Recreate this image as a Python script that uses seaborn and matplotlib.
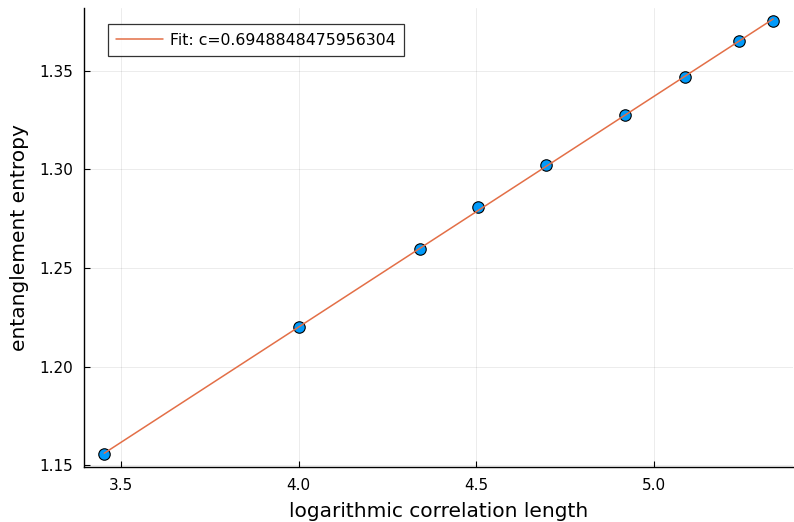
import numpy as np
import pandas as pd
import matplotlib
matplotlib.use("Agg")
import matplotlib.pyplot as plt
import seaborn as sns

# --- data ---
log_corr_length = [3.453, 4.002, 4.341, 4.506, 4.697, 4.919, 5.086, 5.240, 5.335]
entropy = [1.1556, 1.2200, 1.2596, 1.2810, 1.3023, 1.3277, 1.3470, 1.3652, 1.3754]
fit_label = "Fit: c=0.6948848475956304"
x_ticks = [3.5, 4.0, 4.5, 5.0]
y_ticks = [1.15, 1.20, 1.25, 1.30, 1.35]

df = pd.DataFrame({"x": log_corr_length, "y": entropy})

# linear fit through the points, S = c/6 * log(xi) + b
slope, intercept = np.polyfit(df["x"], df["y"], 1)
fit_df = pd.DataFrame({"x": df["x"], "y": slope * df["x"] + intercept})

sns.set_style("white")
plt.rcParams["font.family"] = ["DejaVu Sans"]
plt.rcParams["text.color"] = "black"
plt.rcParams["axes.labelcolor"] = "black"

fig = plt.figure(figsize=(7.94, 5.22), dpi=100)
ax = fig.add_axes([0.106, 0.105, 0.893, 0.880])

sns.scatterplot(data=df, x="x", y="y", ax=ax, color="#009AFA", s=68,
                edgecolor="black", linewidth=0.8, zorder=2, legend=False)
sns.lineplot(data=fit_df, x="x", y="y", ax=ax, color="#E36F47", linewidth=1.1,
             label=fit_label, zorder=3)

# Plots.jl-like axis padding
xr = df["x"].max() - df["x"].min()
yr = df["y"].max() - df["y"].min()
ax.set_xlim(df["x"].min() - 0.03 * xr, df["x"].max() + 0.03 * xr)
ax.set_ylim(df["y"].min() - 0.03 * yr, df["y"].max() + 0.03 * yr)

ax.set_xticks(x_ticks)
ax.set_xticklabels([f"{t:.1f}" for t in x_ticks])
ax.set_yticks(y_ticks)
ax.set_yticklabels([f"{t:.2f}" for t in y_ticks])

ax.grid(True, color="black", alpha=0.08, linewidth=0.7)
for side in ["top", "right"]:
    ax.spines[side].set_visible(False)
for side in ["left", "bottom"]:
    ax.spines[side].set_color("black")
    ax.spines[side].set_linewidth(1.0)
ax.tick_params(direction="in", length=4, width=0.8, colors="black",
               labelsize=11, left=True, bottom=True, pad=8)

ax.set_xlabel("logarithmic correlation length", fontsize=14.5, labelpad=6)
ax.set_ylabel("entanglement entropy", fontsize=14.5, labelpad=7)

leg = ax.legend(loc="upper left", bbox_to_anchor=(0.033, 0.965), borderaxespad=0,
                fontsize=11.3, frameon=True, fancybox=False, edgecolor="black",
                handlelength=3.0, handletextpad=0.4, borderpad=0.55)
leg.get_frame().set_linewidth(0.9)

fig.savefig("out.png", dpi=100)
